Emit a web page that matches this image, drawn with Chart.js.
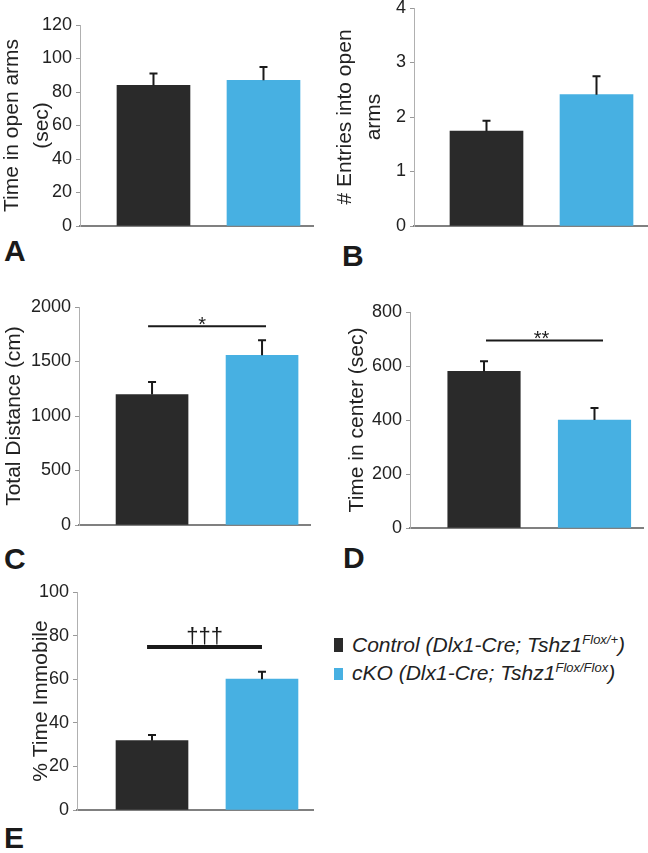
<!DOCTYPE html>
<html>
<head>
<meta charset="utf-8">
<script src="https://cdn.jsdelivr.net/npm/chart.js@4.4.1/dist/chart.umd.min.js"></script>
<style>
  html, body { margin: 0; padding: 0; background: #fff; }
  body { position: relative; width: 648px; height: 853px; overflow: hidden; font-family: 'Liberation Sans', Arial, sans-serif; color: #222; }
  canvas { position: absolute; }
  .letter { position: absolute; font-weight: bold; font-size: 30px; line-height: 30px; color: #1a1a1a; }
  .leg { position: absolute; left: 352px; font-size: 21px; line-height: 21px; font-style: italic; white-space: nowrap; color: #222; }
  .leg sup { font-size: 13px; vertical-align: 8px; line-height: 0; }
  .sw { position: absolute; left: 334px; width: 9px; }
</style>
</head>
<body>

<div class="letter" style="left:4px; top:236px">A</div>
<div class="letter" style="left:342px; top:241px">B</div>
<div class="letter" style="left:4px; top:544px">C</div>
<div class="letter" style="left:343px; top:543px">D</div>
<div class="letter" style="left:4px; top:823px">E</div>

<div class="sw" style="top:638px; height:14px; background:#2a2a2a;"></div>
<div class="leg" style="top:634px">Control (Dlx1-Cre; Tshz1<sup>Flox/+</sup>)</div>
<div class="sw" style="top:668px; height:12px; background:#47b0e2;"></div>
<div class="leg" style="top:662px">cKO (Dlx1-Cre; Tshz1<sup>Flox/Flox</sup>)</div>

<script>
// groups
const groups = ['Control', 'cKO'];
const barColors = ['#2a2a2a', '#47b0e2'];

// A: elevated plus maze, time in open arms
const timeOpenArms = [84, 87];
const timeOpenArmsErr = [7, 8];
const ticksA = [0, 20, 40, 60, 80, 100, 120];

// B: entries into open arms
const entriesOpenArms = [1.74, 2.41];
const entriesOpenArmsErr = [0.19, 0.34];
const ticksB = [0, 1, 2, 3, 4];

// C: total distance
const totalDistance = [1197, 1557];
const totalDistanceErr = [115, 138];
const ticksC = [0, 500, 1000, 1500, 2000];

// D: time in center
const timeCenter = [580, 400];
const timeCenterErr = [38, 44];
const ticksD = [0, 200, 400, 600, 800];

// E: % time immobile
const timeImmobile = [31.8, 60];
const timeImmobileErr = [2.6, 3.4];
const ticksE = [0, 20, 40, 60, 80, 100];

const FONT = "'Liberation Sans', Arial, sans-serif";

// error bars + significance bar drawn on top of the bars
function extras(errs, sig) {
  return {
    id: 'extras',
    afterDatasetsDraw(chart) {
      const ctx = chart.ctx;
      const xs = chart.scales.x, ys = chart.scales.y;
      const meta = chart.getDatasetMeta(0);
      const vals = chart.data.datasets[0].data;
      ctx.save();
      ctx.strokeStyle = '#1a1a1a';
      ctx.lineWidth = 2;
      meta.data.forEach((bar, i) => {
        const top = ys.getPixelForValue(vals[i].y + errs[i]);
        ctx.beginPath();
        ctx.moveTo(bar.x, bar.y);
        ctx.lineTo(bar.x, top);
        ctx.moveTo(bar.x - 4, top);
        ctx.lineTo(bar.x + 4, top);
        ctx.stroke();
      });
      if (sig) {
        const x1 = xs.getPixelForValue(sig.from);
        const x2 = xs.getPixelForValue(sig.to);
        const y = ys.getPixelForValue(sig.y);
        ctx.lineWidth = sig.width;
        ctx.beginPath();
        ctx.moveTo(x1, y);
        ctx.lineTo(x2, y);
        ctx.stroke();
        ctx.fillStyle = '#1a1a1a';
        ctx.font = sig.size + 'px ' + FONT;
        ctx.textAlign = 'center';
        ctx.textBaseline = 'alphabetic';
        ctx.fillText(sig.label, (x1 + x2) / 2 + (sig.dx || 0), y + sig.dy);
      }
      ctx.restore();
    }
  };
}

function panel(g, title, values, errs, ticks, sig) {
  const padTop = 30, padRight = 6, padBottom = 20;
  const cv = document.createElement('canvas');
  const w = g.right + padRight - g.cl;
  const h = g.bottom + padBottom - (g.top - padTop);
  cv.width = w; cv.height = h;
  cv.style.left = g.cl + 'px';
  cv.style.top = (g.top - padTop) + 'px';
  cv.style.width = w + 'px';
  cv.style.height = h + 'px';
  document.body.appendChild(cv);

  const titleSize = 21, titleLH = 1.4;

  new Chart(cv.getContext('2d'), {
    type: 'bar',
    data: {
      datasets: [{
        label: title.join(' '),
        data: values.map((v, i) => ({ x: i + 1, y: v })),
        backgroundColor: barColors,
        borderWidth: 0,
        barThickness: g.bw
      }]
    },
    options: {
      responsive: false,
      animation: false,
      devicePixelRatio: 1,
      layout: { padding: { top: padTop, right: padRight, bottom: padBottom, left: 0 } },
      plugins: { legend: { display: false }, tooltip: { enabled: false } },
      scales: {
        x: {
          type: 'linear',
          min: g.xMin,
          max: g.xMax,
          offset: false,
          grid: { display: false },
          ticks: { display: false },
          border: { display: true, color: '#808080', width: 2 },
          afterFit: s => { s.height = 0; }
        },
        y: {
          min: ticks[0],
          max: ticks[ticks.length - 1],
          afterBuildTicks: s => { s.ticks = ticks.map(v => ({ value: v })); },
          grid: { drawOnChartArea: false, drawTicks: true, tickLength: 4, color: '#999' },
          border: { display: true, color: '#b0b0b0', width: 1 },
          ticks: {
            font: { family: FONT, size: 18 },
            color: '#222',
            padding: 4,
            callback: v => String(v)
          },
          title: {
            display: true,
            text: title,
            color: '#222',
            font: { family: FONT, size: titleSize, lineHeight: titleLH },
            padding: { top: g.titleX - g.cl - titleSize * titleLH / 2, bottom: 0 }
          },
          afterFit: s => { s.width = g.axisX - g.cl; }
        }
      }
    },
    plugins: [extras(errs, sig)]
  });
}

panel({ cl: -5, axisX: 80, top: 25, bottom: 226, right: 313, xMin: 0.332, xMax: 2.45, bw: 73, titleX: 12.5 },
  ['Time in open arms', '(sec)'], timeOpenArms, timeOpenArmsErr, ticksA, null);

panel({ cl: 320, axisX: 414, top: 8, bottom: 226, right: 647, xMin: 0.341, xMax: 2.459, bw: 73, titleX: 345 },
  ['# Entries into open', 'arms'], entriesOpenArms, entriesOpenArmsErr, ticksB, null);

panel({ cl: -5, axisX: 79, top: 306.7, bottom: 525, right: 310, xMin: 0.336, xMax: 2.436, bw: 72, titleX: 14 },
  ['Total Distance (cm)'], totalDistance, totalDistanceErr, ticksC,
  { from: 0.964, to: 2.036, y: 1823, label: '*', width: 2, size: 20, dy: 5, dx: -5 });

panel({ cl: 320, axisX: 410, top: 311.7, bottom: 528.3, right: 643, xMin: 0.33, xMax: 2.439, bw: 72.5, titleX: 357.5 },
  ['Time in center (sec)'], timeCenter, timeCenterErr, ticksD,
  { from: 1.018, to: 2.077, y: 694, label: '**', width: 2, size: 20, dy: 4, dx: -3 });

panel({ cl: -5, axisX: 77, top: 592, bottom: 810, right: 313, xMin: 0.318, xMax: 2.464, bw: 72, titleX: 41 },
  ['% Time Immobile'], timeImmobile, timeImmobileErr, ticksE,
  { from: 0.955, to: 2.0, y: 74.8, label: '†††', width: 4, size: 22, dy: -4, dx: 0 });
</script>
</body>
</html>
